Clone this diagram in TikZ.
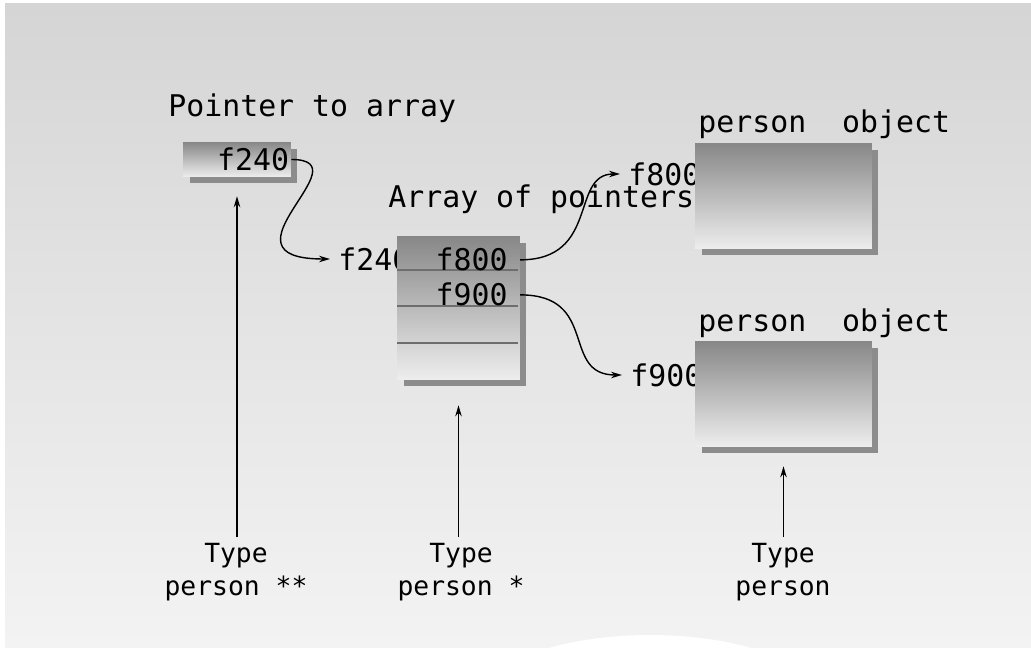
\documentclass[tikz,border=0pt]{standalone}
\usepackage{fontspec}
\setmonofont{DejaVu Sans Mono}
\usepackage{xcolor}
\usepackage{tikz}
\usetikzlibrary{arrows.meta, positioning, shadows}
\definecolor{bgtop}{RGB}{213, 213, 213}
\definecolor{bgbottom}{RGB}{243, 243, 243}
\definecolor{boxtop}{RGB}{135, 135, 135}
\definecolor{boxbottom}{RGB}{238, 238, 238}
\definecolor{boxshadow}{RGB}{140, 140, 140}
\definecolor{rowgray}{RGB}{110, 110, 110}

\begin{document}
\begin{tikzpicture}[x=0.02cm, y=-0.02cm,
    txt/.style={font=\ttfamily\fontsize{17}{20}\selectfont, inner sep=0pt},
    addr/.style={font=\ttfamily\fontsize{17}{20}\selectfont, inner sep=0.16cm},
    cell/.style={font=\ttfamily\fontsize{17}{20}\selectfont, inner xsep=0.24cm, inner ysep=0.1cm},
    membox/.style={rectangle, top color=boxtop, bottom color=boxbottom,
      drop shadow={shadow xshift=0.13cm, shadow yshift=-0.13cm, fill=boxshadow, opacity=1}},
    typelbl/.style={font=\ttfamily\fontsize{15}{18.5}\selectfont, align=center, inner sep=0.12cm},
    ptrline/.style={line width=0.8pt, -{Stealth[length=0.22cm, width=0.13cm]}},
    rowline/.style={rowgray, line width=0.6pt}]

          % Background
          \useasboundingbox (0,0) rectangle (1031,648);
          \fill[white] (0,0) rectangle (1031,648);
          \begin{scope}
            \clip (5,4) rectangle (1031,648);
            \shade[top color=bgtop, bottom color=bgbottom] (5,4) rectangle (1031,648);
            \fill[white] (650,710) ellipse [x radius=3.6cm, y radius=1.5cm];
          \end{scope}

          % Titles
          \node[txt, anchor=base west] (ptrtitle) at (168,117) {Pointer to array};
          \node[txt, anchor=base west] (arrtitle) at (388,208) {Array of pointers};
          \node[txt, anchor=base west] (obj1title) at (698,133) {person~~object};
          \node[txt, anchor=base west] (obj2title) at (698,332) {person~~object};

          % Addresses
          \node[addr, anchor=west] (lbl240) at (330,259) {f240};
          \node[addr, anchor=west] (lbl800) at (620,174) {f800};
          \node[addr, anchor=west] (lbl900) at (622,375) {f900};

          % Memory
          \node[membox, minimum width=2.16cm, minimum height=0.66cm, inner xsep=0.04cm,
                text width=2.08cm, align=right, font=\ttfamily\fontsize{17}{20}\selectfont] (ptr) at (237,159.5) {f240};
          \node[membox, minimum width=2.46cm, minimum height=2.88cm] (arr) at (458.5,308) {};
          \node[membox, minimum width=3.54cm, minimum height=2.12cm] (obj1) at (783.5,196) {};
          \node[membox, minimum width=3.54cm, minimum height=2.12cm] (obj2) at (783.5,394) {};

          \foreach \y in {270,306,343}
            \draw[rowline] (397,\y) -- (518,\y);
          \node[cell, anchor=base east] (a800) at (520,271) {f800};
          \node[cell, anchor=base east] (a900) at (520,306) {f900};

          % Pointers
          \draw[ptrline] (ptr.east) .. controls +(75,0) and +(-120,0) .. (lbl240.west);
          \draw[ptrline] (a800.east) .. controls +(80,0) and +(-50,0) .. (lbl800.west);
          \draw[ptrline] (a900.east) .. controls +(80,0) and +(-62,0) .. (lbl900.west);

          % Types
          \node[typelbl] (typepp) at (236,572) {Type\\person **};
          \node[typelbl] (typep) at (461,572) {Type\\person *};
          \node[typelbl] (typeobj) at (783,572) {Type\\person};

          \draw[ptrline, shorten >=0.38cm] (ptr.south |- typepp.north) -- (ptr.south);
          \draw[ptrline, shorten >=0.5cm] (arr.south |- typep.north) -- (arr.south);
          \draw[ptrline, shorten >=0.38cm] (obj2.south |- typeobj.north) -- (obj2.south);
    \end{tikzpicture}
\end{document}
